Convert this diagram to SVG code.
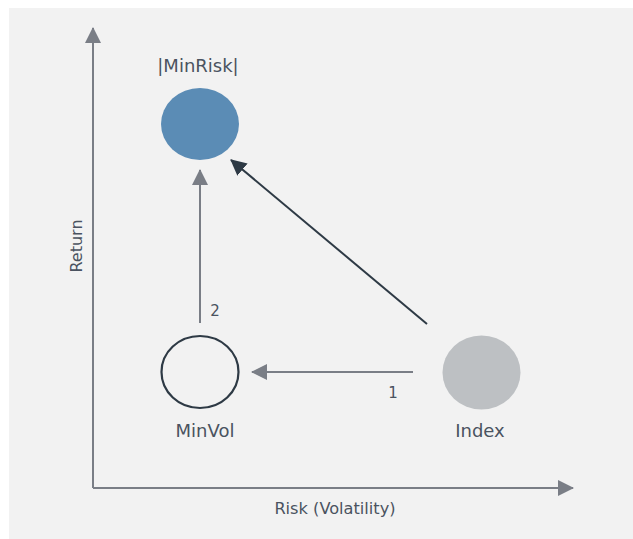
<svg xmlns="http://www.w3.org/2000/svg" width="633" height="539" viewBox="0 0 633 539">
<defs>
<style>
.t{font-family:"DejaVu Sans","Liberation Sans",sans-serif;fill:#4a5360}
.ax{stroke:#7a7e86;stroke-width:2;fill:none}
.grey{stroke:#7a7e86;stroke-width:2;fill:none}
.dark{stroke:#2e3a45;stroke-width:2;fill:none}
</style>
<marker id="ag" viewBox="0 0 16 16" refX="15" refY="8" markerWidth="16" markerHeight="16" markerUnits="userSpaceOnUse" orient="auto"><path d="M0,0 L16,8 L0,16 Z" fill="#7a7e86"/></marker>
<marker id="ad" viewBox="0 0 16 16" refX="15" refY="8" markerWidth="16" markerHeight="16" markerUnits="userSpaceOnUse" orient="auto"><path d="M0,0 L16,8 L0,16 Z" fill="#2e3a45"/></marker>
</defs>
<rect x="9" y="8" width="624" height="531" fill="#f2f2f2"/>
<g id="axes">
<path class="ax" d="M93,488 L93,28" marker-end="url(#ag)"/>
<path class="ax" d="M93,488 L573,488" marker-end="url(#ag)"/>
<text class="t" x="335" y="514" font-size="16.2" text-anchor="middle">Risk (Volatility)</text>
<text class="t" transform="translate(81.5,246) rotate(-90)" font-size="16" text-anchor="middle">Return</text>
</g>
<g id="connectors">
<path class="grey" d="M413,372 L252,372" marker-end="url(#ag)"/>
<path class="grey" d="M200,323 L200,170" marker-end="url(#ag)"/>
<path class="dark" d="M427,324 L231,160" marker-end="url(#ad)"/>
<text class="t" x="393" y="398" font-size="15" text-anchor="middle">1</text>
<text class="t" x="215" y="316" font-size="15" text-anchor="middle">2</text>
</g>
<g id="minrisk">
<ellipse cx="200" cy="124" rx="39" ry="36" fill="#5b8cb5"/>
<text class="t" x="198" y="72" font-size="18" text-anchor="middle">|MinRisk|</text>
</g>
<g id="minvol">
<ellipse cx="200" cy="372" rx="38.5" ry="36" fill="none" stroke="#2e3a45" stroke-width="2.2"/>
<text class="t" x="205" y="437" font-size="18" text-anchor="middle">MinVol</text>
</g>
<g id="index">
<ellipse cx="481.5" cy="372.5" rx="39" ry="37" fill="#bdc0c3"/>
<text class="t" x="480" y="437" font-size="18" text-anchor="middle">Index</text>
</g>
</svg>
